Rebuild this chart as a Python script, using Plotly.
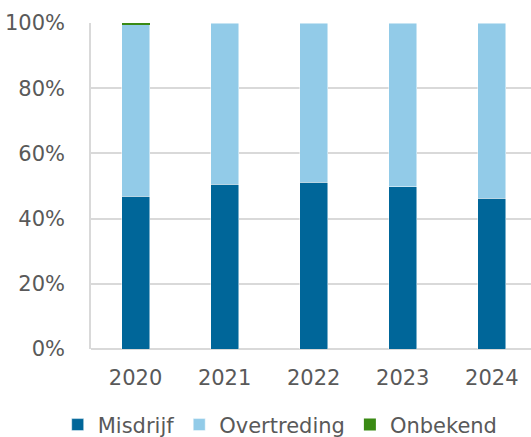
import plotly.graph_objects as go

years = ["2020", "2021", "2022", "2023", "2024"]
misdrijf = [46.9, 50.6, 51.2, 49.7, 46.3]
onbekend = [0.4, 0.0, 0.0, 0.0, 0.0]
overtreding = [100 - m - o for m, o in zip(misdrijf, onbekend)]

font_family = "DejaVu Sans, Verdana, sans-serif"
gray = "#595959"

fig = go.Figure()
for name, vals, color, lw in [
    ("Misdrijf", misdrijf, "#006699", 0.8),
    ("Overtreding", overtreding, "#92CBE8", 0.8),
    ("Onbekend", onbekend, "#3A8A14", 0),
]:
    fig.add_trace(go.Bar(
        x=years, y=vals, name=name,
        marker=dict(color=color, line=dict(color="rgba(255,255,255,0.6)", width=lw)),
        width=0.315,
    ))

fig.update_layout(
    width=531, height=437,
    barmode="stack",
    plot_bgcolor="white", paper_bgcolor="white",
    margin=dict(l=91, r=0, t=23, b=88, autoexpand=False),
    font=dict(family=font_family, size=21, color=gray),
    showlegend=True,
    hovermode=False,
    legend=dict(
        orientation="h",
        x=0.43, xanchor="center", y=-0.233, yanchor="middle",
        font=dict(size=21, color=gray), traceorder="normal",
        itemwidth=30, bgcolor="rgba(0,0,0,0)",
    ),
    xaxis=dict(
        range=[-0.5, 4.44], showgrid=False, showline=False, automargin=False,
        ticks="", ticklabelstandoff=14, tickfont=dict(size=21, color=gray),
    ),
    yaxis=dict(
        range=[0, 100], dtick=20, ticksuffix="%", automargin=False,
        showgrid=True, gridcolor="#D9D9D9", gridwidth=1.5,
        showline=True, linecolor="#D9D9D9", linewidth=1.5,
        zeroline=True, zerolinecolor="#D9D9D9", zerolinewidth=1.5,
        ticks="", ticklabelstandoff=20, tickfont=dict(size=21, color=gray),
    ),
)

fig.write_html("out.html", config={"displayModeBar": False},
               post_script="document.body.style.margin='0';")
